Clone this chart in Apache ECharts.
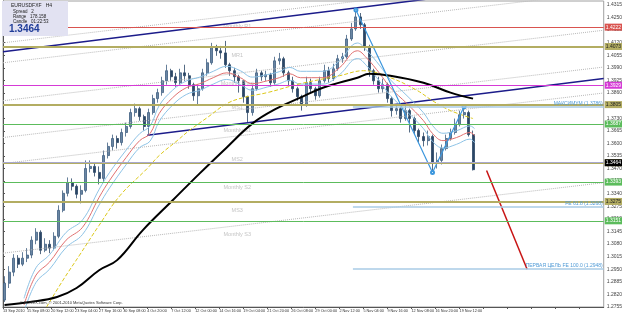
<!DOCTYPE html>
<html>
<head>
<meta charset="utf-8">
<script src="https://cdn.jsdelivr.net/npm/echarts@6.0.0/dist/echarts.min.js"></script>
<style>
html, body { margin: 0; padding: 0; background: #fff; }
#main { width: 625px; height: 315px; }
</style>
</head>
<body>
<div id="main"></div>
<script>
// EURUSD H4, 13 Sep - 23 Nov 2010 (one candle = 3 H4 bars)
const firstOpen = 1.2791;
const closes = [
    1.2878, 1.2935, 1.3007, 1.2976, 1.3007, 1.3023, 1.3100, 1.3141, 1.3048, 1.3079,
    1.3059, 1.3120, 1.3254, 1.3342, 1.3398, 1.3378, 1.3337, 1.3357, 1.3470, 1.3481,
    1.3450, 1.3419, 1.3537, 1.3584, 1.3625, 1.3604, 1.3656, 1.3687, 1.3759, 1.3779,
    1.3738, 1.3687, 1.3759, 1.3831, 1.3862, 1.3923, 1.3975, 1.3944, 1.3913, 1.3964,
    1.3949, 1.3903, 1.3846, 1.3882, 1.3964, 1.4016, 1.4098, 1.4078, 1.4067, 1.4006,
    1.3975, 1.3944, 1.3923, 1.3841, 1.3759, 1.3882, 1.3964, 1.3944, 1.3954, 1.3913,
    1.4026, 1.4037, 1.3964, 1.3923, 1.3882, 1.3841, 1.3800, 1.3913, 1.3882, 1.3846,
    1.3923, 1.3975, 1.3934, 1.3985, 1.4037, 1.4047, 1.4139, 1.4191, 1.4253, 1.4212,
    1.4098, 1.3975, 1.3923, 1.3882, 1.3903, 1.3831, 1.3769, 1.3779, 1.3728, 1.3769,
    1.3728, 1.3666, 1.3635, 1.3614, 1.3635, 1.3501, 1.3512, 1.3573, 1.3625, 1.3656,
    1.3697, 1.3748, 1.3759, 1.3645, 1.3464
];
const highs = [
    1.2914, 1.2966, 1.3028, 1.3023, 1.3038, 1.3059, 1.3120, 1.3162, 1.3151, 1.3110,
    1.3100, 1.3141, 1.3280, 1.3357, 1.3424, 1.3419, 1.3388, 1.3383, 1.3512, 1.3512,
    1.3496, 1.3481, 1.3563, 1.3604, 1.3645, 1.3640, 1.3676, 1.3707, 1.3779, 1.3805,
    1.3789, 1.3748, 1.3779, 1.3851, 1.3882, 1.3944, 1.4006, 1.3985, 1.3964, 1.3985,
    1.4006, 1.3964, 1.3913, 1.3903, 1.3985, 1.4037, 1.4119, 1.4109, 1.4103, 1.4129,
    1.4016, 1.3990, 1.3954, 1.3923, 1.3846, 1.3903, 1.3985, 1.3975, 1.3975, 1.3964,
    1.4047, 1.4067, 1.4047, 1.3975, 1.3944, 1.3892, 1.3851, 1.3944, 1.3934, 1.3892,
    1.3944, 1.4006, 1.3995, 1.4011, 1.4057, 1.4067, 1.4160, 1.4222, 1.4289, 1.4273,
    1.4222, 1.4109, 1.3985, 1.3944, 1.3934, 1.3913, 1.3841, 1.3800, 1.3789, 1.3800,
    1.3779, 1.3738, 1.3676, 1.3656, 1.3666, 1.3645, 1.3553, 1.3594, 1.3645, 1.3676,
    1.3728, 1.3769, 1.3789, 1.3769, 1.3666
];
const lows = [
    1.2781, 1.2853, 1.2914, 1.2956, 1.2966, 1.2987, 1.3007, 1.3079, 1.3028, 1.3038,
    1.3033, 1.3048, 1.3110, 1.3244, 1.3326, 1.3357, 1.3316, 1.3290, 1.3347, 1.3450,
    1.3429, 1.3388, 1.3398, 1.3522, 1.3563, 1.3573, 1.3589, 1.3635, 1.3676, 1.3738,
    1.3717, 1.3666, 1.3645, 1.3748, 1.3810, 1.3846, 1.3903, 1.3923, 1.3892, 1.3898,
    1.3923, 1.3882, 1.3820, 1.3800, 1.3872, 1.3949, 1.4006, 1.4052, 1.4037, 1.3990,
    1.3949, 1.3913, 1.3862, 1.3810, 1.3707, 1.3743, 1.3872, 1.3923, 1.3923, 1.3892,
    1.3903, 1.4006, 1.3944, 1.3898, 1.3862, 1.3820, 1.3769, 1.3789, 1.3862, 1.3825,
    1.3836, 1.3913, 1.3913, 1.3923, 1.3975, 1.4016, 1.4037, 1.4129, 1.4181, 1.4191,
    1.4078, 1.3944, 1.3903, 1.3862, 1.3862, 1.3810, 1.3738, 1.3748, 1.3707, 1.3717,
    1.3656, 1.3645, 1.3604, 1.3584, 1.3589, 1.3450, 1.3470, 1.3491, 1.3563, 1.3614,
    1.3645, 1.3687, 1.3728, 1.3635, 1.3460
];

// time labels, one every 16 H4 bars
const xLabels = ['13 Sep 2010', '15 Sep 08:00', '20 Sep 12:00', '23 Sep 04:00', '27 Sep 16:00',
    '30 Sep 08:00', '4 Oct 20:00', '7 Oct 12:00', '12 Oct 00:00', '14 Oct 16:00', '19 Oct 04:00',
    '21 Oct 20:00', '26 Oct 08:00', '29 Oct 00:00', '2 Nov 12:00', '5 Nov 04:00', '9 Nov 16:00',
    '12 Nov 08:00', '16 Nov 20:00', '19 Nov 12:00'];
const yTicks = [1.2755, 1.2820, 1.2885, 1.2950, 1.3015, 1.3080, 1.3145, 1.3210, 1.3275, 1.3340,
    1.3405, 1.3470, 1.3535, 1.3600, 1.3665, 1.3730, 1.3795, 1.3860, 1.3925, 1.3990, 1.4055,
    1.4120, 1.4185, 1.4250, 1.4315];

// moving averages [bar, price]
const smaBlack = [[1, 1.2765], [18, 1.2781], [36, 1.2807], [49, 1.2853], [64, 1.2945], [76, 1.2997],
    [93, 1.3151], [113, 1.3306], [131, 1.3445], [149, 1.3579], [166, 1.3702], [182, 1.3779],
    [198, 1.3836], [213, 1.3887], [236, 1.3939], [244, 1.3959], [258, 1.3949], [280, 1.3913],
    [298, 1.3862], [313, 1.3831]];
const smaYellow = [[29, 1.2755], [40, 1.2894], [51, 1.3023], [64, 1.3177], [78, 1.3331], [96, 1.3470],
    [104, 1.3537], [116, 1.3614], [124, 1.3666], [136, 1.3733], [149, 1.3805], [160, 1.3836],
    [176, 1.3862], [198, 1.3908], [224, 1.3949], [240, 1.3975], [258, 1.3939], [276, 1.3872],
    [286, 1.3820], [298, 1.3769], [313, 1.3728]];
const ribbonMid = [[14, 1.2765], [22, 1.2920], [31, 1.2987], [42, 1.3100], [53, 1.3167], [64, 1.3321],
    [71, 1.3409], [82, 1.3527], [91, 1.3614], [98, 1.3651], [104, 1.3754], [113, 1.3836],
    [122, 1.3887], [131, 1.3908], [140, 1.3939], [149, 1.3964], [158, 1.3939], [166, 1.3908],
    [176, 1.3923], [184, 1.3939], [191, 1.3959], [198, 1.3939], [213, 1.3939], [224, 1.3990],
    [236, 1.4078], [242, 1.4042], [251, 1.3959], [258, 1.3887], [269, 1.3805], [280, 1.3717],
    [286, 1.3651], [293, 1.3614], [302, 1.3630], [311, 1.3656], [314, 1.3640]];
const ribbonUp = [[14, 1.2800], [22, 1.2958], [31, 1.3025], [42, 1.3140], [53, 1.3205], [64, 1.3362],
    [71, 1.3450], [82, 1.3565], [91, 1.3650], [98, 1.3690], [104, 1.3795], [113, 1.3875],
    [122, 1.3922], [131, 1.3942], [140, 1.3972], [149, 1.3998], [158, 1.3975], [166, 1.3942],
    [176, 1.3955], [184, 1.3970], [191, 1.3992], [198, 1.3972], [213, 1.3972], [224, 1.4026],
    [236, 1.4118], [242, 1.4082], [251, 1.4000], [258, 1.3928], [269, 1.3846], [280, 1.3758],
    [286, 1.3692], [293, 1.3652], [302, 1.3665], [311, 1.3690], [314, 1.3676]];
const ribbonDown = [[14, 1.2730], [22, 1.2882], [31, 1.2950], [42, 1.3062], [53, 1.3130], [64, 1.3282],
    [71, 1.3370], [82, 1.3490], [91, 1.3578], [98, 1.3612], [104, 1.3713], [113, 1.3798],
    [122, 1.3852], [131, 1.3874], [140, 1.3906], [149, 1.3930], [158, 1.3903], [166, 1.3874],
    [176, 1.3891], [184, 1.3908], [191, 1.3926], [198, 1.3906], [213, 1.3906], [224, 1.3954],
    [236, 1.4038], [242, 1.4002], [251, 1.3918], [258, 1.3846], [269, 1.3764], [280, 1.3676],
    [286, 1.3610], [293, 1.3576], [302, 1.3595], [311, 1.3622], [314, 1.3604]];

// monthly pivot levels
const levelNames = ['Monthly R1', 'MR1', 'Monthly Pivot', 'MS1', 'Monthly S1', 'MS2', 'Monthly S2', 'MS3', 'Monthly S3'];
const levelPrices = [1.4222, 1.4073, 1.3929, 1.3805, 1.3687, 1.3537, 1.3393, 1.3275, 1.3151];
const currentPrice = 1.3464;

// expansion targets
const targetNames = ['МАКСИМУМ (1.3786)', 'FE 61.8 (1.3268)', 'ПЕРВАЯ ЦЕЛЬ FE 100.0 (1.2948)'];
const targetPrices = [1.3789, 1.3272, 1.2950];

const zigzag = [[235, 1.4289], [286, 1.3450], [307, 1.3789]];
const projection = [[322, 1.3460], [349, 1.2950]];
const channelTop = [[0, 1.4073], [400, 1.4458]];
const channelBottom = [[96, 1.3642], [400, 1.3935]];
const fanLines = [
    [[0, 1.4119], [400, 1.4483]],
    [[0, 1.4016], [400, 1.4380]],
    [[0, 1.3820], [400, 1.4184]],
    [[0, 1.3630], [400, 1.3994]],
    [[0, 1.3496], [400, 1.3860]],
    [[0, 1.3033], [400, 1.3397]]
];

const FONT = 'Liberation Sans';

function levelColor(name) {
    if (name === 'Monthly R1') return '#d9534f';
    if (name === 'Monthly Pivot') return '#d63ad6';
    if (name.indexOf('Monthly S') === 0) return '#5cbc5c';
    return '#b3ad62';
}

function initChart() {
    const chart = echarts.init(document.getElementById('main'));

    const candles = closes.map((c, k) => [k * 3 + 1, k === 0 ? firstOpen : closes[k - 1], c, lows[k], highs[k]]);

    const levelLines = levelNames.map((name, i) => {
        const col = levelColor(name);
        const mid = name.indexOf('Monthly') !== 0;
        return {
            yAxis: levelPrices[i],
            lineStyle: { color: col, width: mid ? 2 : 1, type: 'solid' },
            label: {
                show: true, position: 'end', distance: 1,
                formatter: levelPrices[i].toFixed(4),
                backgroundColor: col, color: mid ? '#222' : '#fff',
                fontSize: 5, fontFamily: FONT, padding: [1, 1]
            }
        };
    });
    levelLines.push({
        yAxis: currentPrice,
        lineStyle: { color: '#a9a9cf', width: 1, type: 'solid' },
        label: {
            show: true, position: 'end', distance: 1,
            formatter: currentPrice.toFixed(4),
            backgroundColor: '#000', color: '#fff',
            fontSize: 5, fontFamily: FONT, padding: [1, 1]
        }
    });

    const targetLines = targetNames.map((name, i) => [
        { coord: [233, targetPrices[i]] },
        { coord: [400, targetPrices[i]],
          lineStyle: { color: '#a9cbe6', width: 1.5, type: 'solid' },
          label: { show: true, position: 'insideEndTop', distance: 1, formatter: name,
                   color: '#4f9ad6', fontSize: 5, fontFamily: FONT } }
    ]);

    const thin = (data, color, width, type) => ({
        type: 'line', data: data, showSymbol: false, silent: true, smooth: false,
        lineStyle: { color: color, width: width, type: type || 'solid' }
    });

    const series = [];
    series.push({
        type: 'line', data: [], silent: true,
        markLine: { symbol: ['none', 'none'], silent: true, animation: false, data: levelLines }
    });
    fanLines.forEach(d => series.push(thin(d, '#b9b9b9', 1, 'dotted')));
    series.push(thin(channelTop, '#1c1c8a', 1.5));
    series.push(thin(channelBottom, '#1c1c8a', 1.5));
    series.push(Object.assign(thin(ribbonUp, '#8ec3e6', 1), { smooth: 0.4 }));
    series.push(Object.assign(thin(ribbonDown, '#8ec3e6', 1), { smooth: 0.4 }));
    series.push(Object.assign(thin(ribbonMid, '#e07070', 1), { smooth: 0.4 }));
    series.push(Object.assign(thin(smaYellow, '#dcc81a', 1, 'dashed'), { smooth: 0.4 }));
    series.push(Object.assign(thin(smaBlack, '#000000', 2), { smooth: 0.4 }));
    series.push({
        type: 'candlestick', data: candles, encode: { x: 0, y: [1, 2, 3, 4] },
        barWidth: 2.5, silent: true,
        itemStyle: { color: '#6a86a4', color0: '#2b4666', borderColor: '#3f5e80', borderColor0: '#2b4666', borderWidth: 0.8 }
    });
    series.push({
        type: 'line', data: [], silent: true,
        markLine: { symbol: ['none', 'none'], silent: true, animation: false, data: targetLines }
    });
    series.push({
        type: 'line', data: zigzag, silent: true, symbol: 'emptyCircle', symbolSize: 3, showSymbol: true,
        lineStyle: { color: '#3d97dd', width: 1.2 }, itemStyle: { color: '#3d97dd' }
    });
    series.push(thin(projection, '#c81414', 1.5));
    series.push({
        type: 'scatter', silent: true, symbolSize: 0,
        data: levelNames.map((n, i) => [156, levelPrices[i], n]),
        label: { show: true, position: 'bottom', distance: 1, formatter: p => p.value[2],
                 color: '#b4b4b4', fontSize: 5.5, fontFamily: FONT }
    });

    chart.setOption({
        animation: false,
        backgroundColor: '#ffffff',
        grid: { left: 2, right: 19, top: 1, bottom: 8, show: true, borderColor: '#a0a0a0', borderWidth: 1 },
        xAxis: {
            type: 'value', min: 0, max: 400, interval: 16,
            axisLine: { show: true, lineStyle: { color: '#555' } },
            axisTick: { show: true, length: 2, lineStyle: { color: '#555' } },
            splitLine: { show: false },
            axisLabel: {
                formatter: v => xLabels[Math.round(v / 16)] || '',
                align: 'left', margin: 2, fontSize: 3.8, fontFamily: FONT, color: '#333',
                showMinLabel: true, showMaxLabel: false, hideOverlap: false
            }
        },
        yAxis: {
            type: 'value', position: 'right', min: 1.2755, max: 1.4335,
            axisLine: { show: true, lineStyle: { color: '#555' } },
            axisTick: { show: true, length: 2, customValues: yTicks, lineStyle: { color: '#555' } },
            splitLine: { show: false },
            axisLabel: {
                customValues: yTicks, formatter: v => v.toFixed(4),
                margin: 3, fontSize: 5, fontFamily: FONT, color: '#444'
            }
        },
        graphic: [
            { type: 'rect', left: 2, top: 1, shape: { width: 66, height: 35 }, style: { fill: '#e2e2f2' }, z: 10 },
            { type: 'text', left: 11, top: 3, z: 11, style: { text: 'EURUSDFXF   H4', font: '5px "Liberation Sans"', fill: '#222' } },
            { type: 'text', left: 13, top: 9, z: 11, style: { text: 'Spread   2', font: '4.5px "Liberation Sans"', fill: '#222' } },
            { type: 'text', left: 13, top: 14, z: 11, style: { text: 'Range   178.158', font: '4.5px "Liberation Sans"', fill: '#222' } },
            { type: 'text', left: 13, top: 19, z: 11, style: { text: 'Candle   01:22:53', font: '4.5px "Liberation Sans"', fill: '#222' } },
            { type: 'text', left: 9, top: 24, z: 11, style: { text: currentPrice.toFixed(4), font: 'bold 10px "Liberation Sans"', fill: '#1f3c98' } },
            { type: 'text', left: 20, top: 301, z: 11, style: { text: '© FOREX.com, © 2001-2010 MetaQuotes Software Corp.', font: '4px "Liberation Sans"', fill: '#333' } }
        ],
        series: series
    });
}

document.addEventListener('DOMContentLoaded', initChart);
</script>
</body>
</html>
